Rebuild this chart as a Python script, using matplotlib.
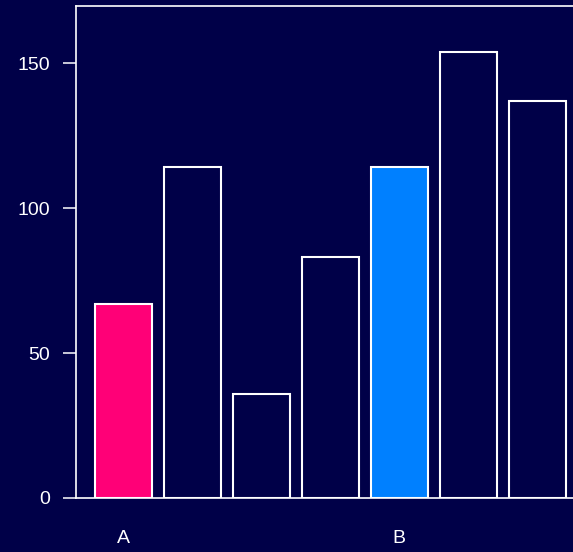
import matplotlib
matplotlib.use("Agg")
import matplotlib.pyplot as plt

values = [67, 114, 36, 83, 114, 154, 137]
fill_colors = ["#FF0077", "none", "none", "none", "#0080FF", "none", "none"]
tick_positions = [0, 4]
tick_labels = ["A", "B"]
y_ticks = [0, 50, 100, 150]

bg = "#000048"
W, H = 573, 552
fig = plt.figure(figsize=(W / 100, H / 100), dpi=100, facecolor=bg)
ax = fig.add_axes([76 / W, 54 / H, (W - 76) / W, (498 - 6) / H], facecolor=bg)

x = list(range(len(values)))
ax.bar(x, values, width=0.83, color=[c if c != "none" else bg for c in fill_colors],
       edgecolor="white", linewidth=1.5, zorder=3)

ax.set_xlim(-0.688, 6.52)
ax.set_ylim(0, 169.7)
ax.set_xticks(tick_positions)
ax.set_xticklabels(tick_labels, fontfamily="Liberation Sans", fontsize=14, color="white")
ax.set_yticks(y_ticks)
ax.set_yticklabels([str(v) for v in y_ticks], fontfamily="Liberation Sans", fontsize=14, color="white")
ax.tick_params(axis="x", length=0, pad=23)
ax.tick_params(axis="y", length=9.5, width=1.1, color="white", pad=9)

for s in ["left", "top", "bottom"]:
    ax.spines[s].set_color("white")
    ax.spines[s].set_linewidth(1.2)
ax.spines["right"].set_visible(False)

fig.savefig("out.png", dpi=100, facecolor=bg)
